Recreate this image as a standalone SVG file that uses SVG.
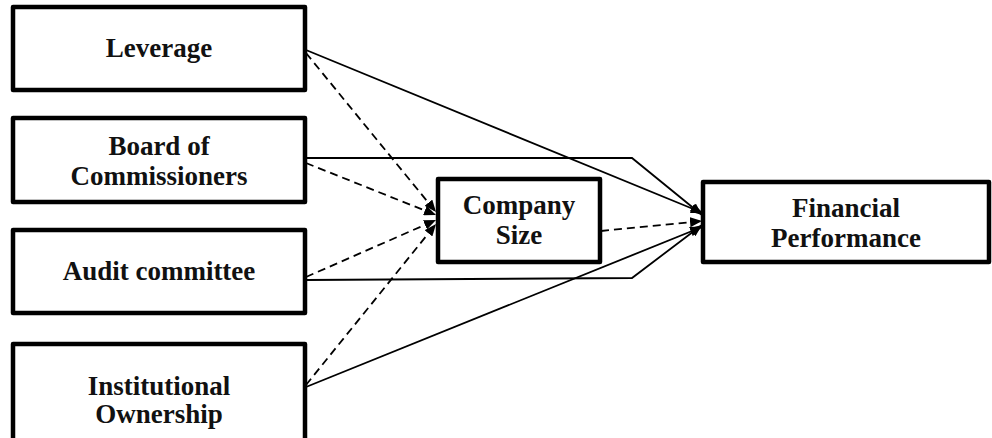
<svg xmlns="http://www.w3.org/2000/svg" width="992" height="438" viewBox="0 0 992 438">
<defs>
<marker id="ah" viewBox="0 0 12 10" refX="12" refY="5" markerWidth="12" markerHeight="10" markerUnits="userSpaceOnUse" orient="auto">
<path d="M0,0 L12,5 L0,10 Z" fill="#000"/>
</marker>
<style>
.box{fill:#fff;stroke:#000;stroke-width:4.5;stroke-linejoin:round}
.t{font-family:"Liberation Serif","Times New Roman",serif;font-weight:bold;font-size:27px;fill:#111;text-anchor:middle}
.s{fill:none;stroke:#000;stroke-width:1.8;marker-end:url(#ah)}
.d{fill:none;stroke:#000;stroke-width:1.8;stroke-dasharray:8 5;marker-end:url(#ah)}
</style>
</defs>
<g id="connectors">
<path class="s" d="M306,50 L703,213"/>
<path class="d" d="M306,53 L436,212"/>
<path class="s" d="M306,158 L632,158 L702,215"/>
<path class="d" d="M306,163 L436,215"/>
<path class="s" d="M306,280 L632,278 L702,225"/>
<path class="d" d="M306,277 L436,220"/>
<path class="s" d="M306,387 L702,227"/>
<path class="d" d="M306,385 L436,224"/>
<path class="d" d="M601,231 L702,221"/>
</g>
<g id="leverage">
<rect class="box" x="13" y="7" width="292" height="83"/>
<text class="t" x="159" y="57">Leverage</text>
</g>
<g id="board">
<rect class="box" x="13" y="118" width="292" height="84"/>
<text class="t" x="159" y="155">Board of</text>
<text class="t" x="159" y="185">Commissioners</text>
</g>
<g id="audit">
<rect class="box" x="13" y="230" width="292" height="83"/>
<text class="t" x="159" y="280">Audit committee</text>
</g>
<g id="institutional">
<rect class="box" x="13" y="344" width="292" height="110"/>
<text class="t" x="159" y="395">Institutional</text>
<text class="t" x="159" y="423">Ownership</text>
</g>
<g id="company">
<rect class="box" x="438" y="179" width="162" height="83"/>
<text class="t" x="519" y="214">Company</text>
<text class="t" x="519" y="244">Size</text>
</g>
<g id="financial">
<rect class="box" x="703" y="182" width="286" height="80"/>
<text class="t" x="846" y="217">Financial</text>
<text class="t" x="846" y="247">Performance</text>
</g>
</svg>
